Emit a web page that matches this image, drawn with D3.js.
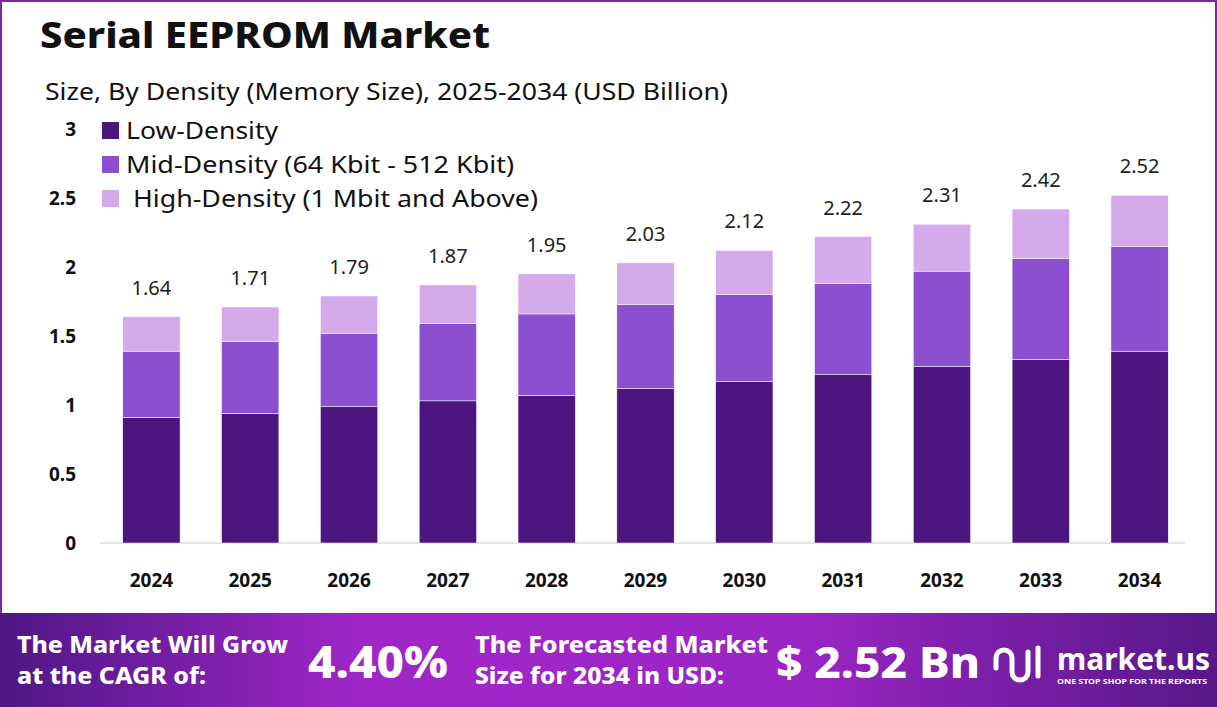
<!DOCTYPE html>
<html><head><meta charset="utf-8">
<script src="https://cdn.jsdelivr.net/npm/d3@7"></script>
<style>
body{margin:0;background:#fff;font-family:Poppins,"Noto Sans",sans-serif}
</style></head><body>
<svg id="c" width="1217" height="707"></svg>
<script>
// datos
const years = ["2024","2025","2026","2027","2028","2029","2030","2031","2032","2033","2034"];
const low  = [0.91,0.94,0.99,1.03,1.07,1.12,1.17,1.22,1.28,1.33,1.39];
const mid  = [0.48,0.52,0.53,0.56,0.59,0.61,0.63,0.66,0.69,0.73,0.76];
const high = [0.25,0.25,0.27,0.28,0.29,0.30,0.32,0.34,0.34,0.36,0.37];
const totals = ["1.64","1.71","1.79","1.87","1.95","2.03","2.12","2.22","2.31","2.42","2.52"];
const yTicks = [0,0.5,1,1.5,2,2.5,3];
const seriesNames = ["Low-Density","Mid-Density (64 Kbit - 512 Kbit)","High-Density (1 Mbit and Above)"];
const colors = ["#4d1580","#8c4fd0","#d4aaeb"];

const svg = d3.select("#c");
const font = "'Noto Sans',sans-serif";

// marco
svg.append("rect").attr("x",1).attr("y",1).attr("width",1215).attr("height",705)
  .attr("fill","none").attr("stroke","#7b2a9e").attr("stroke-width",2);

svg.append("text").attr("x",40).attr("y",48).text("Serial EEPROM Market")
  .style("font-family",font).style("font-weight",800).style("font-size","35px").attr("fill","#111")
  .attr("textLength",450).attr("lengthAdjust","spacingAndGlyphs");
svg.append("text").attr("x",45).attr("y",100).text("Size, By Density (Memory Size), 2025-2034 (USD Billion)")
  .style("font-family",font).style("font-size","23px").attr("fill","#111")
  .attr("textLength",683).attr("lengthAdjust","spacingAndGlyphs");

const x = d3.scaleBand(years, [103,1188]).paddingInner(0.42).paddingOuter(0.2);
const y = d3.scaleLinear([0,3],[543,129]);

// eje y
svg.append("g").selectAll("text").data(yTicks).join("text")
  .attr("x",76).attr("y",d=>y(d)+7).attr("text-anchor","end")
  .text(d=>d).style("font-family",font).style("font-weight",700).style("font-size","19px").attr("fill","#111");

svg.append("line").attr("x1",100).attr("x2",1185).attr("y1",y(0)).attr("y2",y(0))
  .attr("stroke","#ccc");

// pilas
const rows = years.map((yr,i)=>({year:yr,low:low[i],mid:mid[i],high:high[i]}));
const stack = d3.stack().keys(["low","mid","high"])(rows);
svg.append("g").selectAll("g").data(stack).join("g").attr("fill",(d,i)=>colors[i])
  .selectAll("rect").data(d=>d).join("rect")
  .attr("x",d=>x(d.data.year)).attr("width",x.bandwidth())
  .attr("y",d=>y(d[1])).attr("height",d=>y(d[0])-y(d[1]))
  .attr("stroke","#fff").attr("stroke-width",0.5);

svg.append("g").selectAll("text").data(rows).join("text")
  .attr("x",d=>x(d.year)+x.bandwidth()/2)
  .attr("y",(d,i)=>y(d.low+d.mid+d.high)-22)
  .attr("text-anchor","middle").text((d,i)=>totals[i])
  .style("font-family",font).style("font-size","20px").attr("fill","#222");

svg.append("g").selectAll("text").data(years).join("text")
  .attr("x",d=>x(d)+x.bandwidth()/2).attr("y",587).attr("text-anchor","middle")
  .text(d=>d).style("font-family",font).style("font-weight",700).style("font-size","19px").attr("fill","#111");

// leyenda
const legW = [152,388,405], legX = [24,24,31];
const lg = svg.append("g").selectAll("g").data(seriesNames).join("g")
  .attr("transform",(d,i)=>`translate(102,${122+i*34})`);
lg.append("rect").attr("width",17).attr("height",17).attr("fill",(d,i)=>colors[i]);
lg.append("text").attr("x",(d,i)=>legX[i]).attr("y",17).text(d=>d)
  .style("font-family",font).style("font-size","23px").attr("fill","#111")
  .attr("textLength",(d,i)=>legW[i]).attr("lengthAdjust","spacingAndGlyphs");

// banda inferior
const defs = svg.append("defs");
const gr = defs.append("linearGradient").attr("id","bg");
[["0%","#4f1785"],["30%","#a026c8"],["65%","#9c25c5"],["100%","#571888"]].forEach(s=>
  gr.append("stop").attr("offset",s[0]).attr("stop-color",s[1]));
svg.append("rect").attr("x",0).attr("y",613).attr("width",1217).attr("height",94).attr("fill","url(#bg)");

const bt = (t,xx,yy,sz,len,w=800)=>svg.append("text").attr("x",xx).attr("y",yy).text(t)
  .style("font-family",font).style("font-weight",w).style("font-size",sz+"px").attr("fill","#fff")
  .attr("textLength",len).attr("lengthAdjust","spacingAndGlyphs");
bt("The Market Will Grow",17,653,23,271);
bt("at the CAGR of:",17,684,23,189);
bt("4.40%",308,678,44,140);
bt("The Forecasted Market",475,653,23,293);
bt("Size for 2034 in USD:",475,684,23,249);
bt("$ 2.52 Bn",776,678,42,204);
bt("market.us",1057,670,31,153,700);
bt("ONE STOP SHOP FOR THE REPORTS",1057,684,7,150,700);
// logotipo sencillo
svg.append("path").attr("d","M996,668 v-10 a8,8 0 0 1 16,0 v14 a8,8 0 0 0 16,0 v-20 M1038,648 v28")
  .attr("fill","none").attr("stroke","#fff").attr("stroke-width",5).attr("stroke-linecap","round");
</script></body></html>
